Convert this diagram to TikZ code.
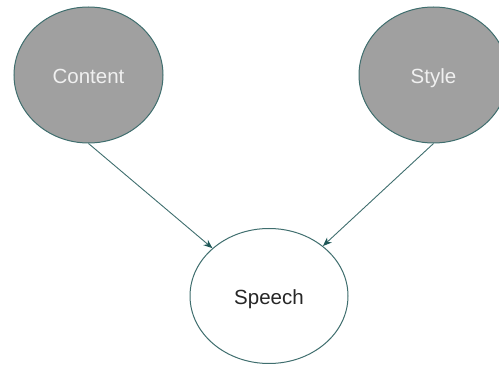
\documentclass[tikz,border=0pt]{standalone}
\usepackage{fontspec}
\setmainfont{Liberation Sans}
\usetikzlibrary{shapes.geometric,arrows.meta}
\definecolor{edgeteal}{HTML}{3F6E6E}
\definecolor{tipteal}{HTML}{1F5858}
\definecolor{latentgray}{HTML}{A0A0A0}
\begin{document}
\begin{tikzpicture}[x=1pt,y=-1pt,
  label text/.style={font=\fontsize{20.5}{24}\selectfont,
    text height=18pt,text depth=0pt},
  latent/.style={ellipse,draw=edgeteal,line width=1pt,fill=latentgray,
    minimum width=149pt,minimum height=136pt,inner sep=0pt,
    text=white!94!black,label text},
  observed/.style={ellipse,draw=edgeteal,line width=1pt,fill=white,
    minimum width=158pt,minimum height=135pt,inner sep=0pt,
    text=black!85,label text},
  link/.style={draw=edgeteal,line width=0.9pt,
    -{Stealth[length=9pt,width=7pt,color=tipteal]}}]
  \useasboundingbox (0,0) rectangle (499,366);
  \node[latent] (content) at (88.5,75) {Content};
  \node[latent] (style) at (433.5,75) {Style};
  \node[observed] (speech) at (269,296) {Speech};
  \draw[link] (content.south) -- (speech);
  \draw[link] (style.south) -- (speech);
\end{tikzpicture}
\end{document}
